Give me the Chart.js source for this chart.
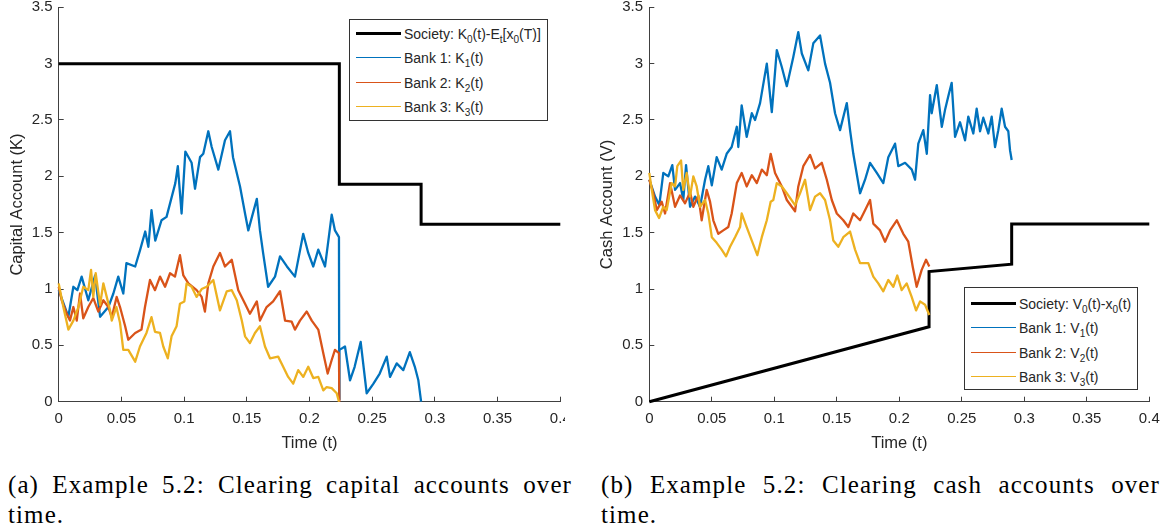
<!DOCTYPE html>
<html>
<head>
<meta charset="utf-8">
<script src="https://cdn.jsdelivr.net/npm/chart.js@4.4.1/dist/chart.umd.min.js"></script>
<style>
  body { margin: 0; background: #fff; width: 1167px; height: 529px; position: relative; overflow: hidden; }
  canvas { position: absolute; top: 0; }
  .legend { position: absolute; background: #fff; border: 1px solid #333; box-sizing: border-box;
            font-family: "Liberation Sans", Arial, sans-serif; font-size: 14px; color: #262626; }
  .legend .row { position: absolute; left: 0; height: 24px; line-height: 24px; white-space: nowrap; }
  .legend .swatch { position: absolute; left: 6px; width: 45px; top: 12px; }
  .legend .txt { position: absolute; left: 54px; top: 0; }
  .legend sub { font-size: 10px; vertical-align: -4px; line-height: 0; }
  .cap { position: absolute; top: 470px; font-family: "Liberation Serif", "Times New Roman", serif;
         font-size: 25px; line-height: 30px; color: #000; letter-spacing: 1.1px; }
  .cap .l1 { display: block; text-align: justify; text-align-last: justify; }
</style>
</head>
<body>
<canvas id="capChart" width="565" height="460" style="left:0px"></canvas>
<canvas id="cashChart" width="577" height="460" style="left:590px"></canvas>

<div class="legend" id="capLegend" style="left:349px; top:19px; width:199px; height:102px;"></div>
<div class="legend" id="cashLegend" style="left:964px; top:287px; width:174px; height:103px;"></div>

<div class="cap" style="left:8px; width:564px;"><span class="l1">(a) Example 5.2: Clearing capital accounts over</span>time.</div>
<div class="cap" style="left:601px; width:559px;"><span class="l1">(b) Example 5.2: Clearing cash accounts over</span>time.</div>

<script>
// tick labels
var xTicks = [0, 0.05, 0.1, 0.15, 0.2, 0.25, 0.3, 0.35, 0.4];
var yTicks = [0, 0.5, 1, 1.5, 2, 2.5, 3, 3.5];

var seriesColors = ['#000000', '#0072BD', '#D95319', '#EDB120'];
var capLabels = ['Society: K<sub>0</sub>(t)-E<sub>t</sub>[x<sub>0</sub>(T)]', 'Bank 1: K<sub>1</sub>(t)', 'Bank 2: K<sub>2</sub>(t)', 'Bank 3: K<sub>3</sub>(t)'];
var cashLabels = ['Society: V<sub>0</sub>(t)-x<sub>0</sub>(t)', 'Bank 1: V<sub>1</sub>(t)', 'Bank 2: V<sub>2</sub>(t)', 'Bank 3: V<sub>3</sub>(t)'];

// ---- (a) capital accounts ----
var k0T = [0, 0.2238, 0.2238, 0.289, 0.289, 0.4];
var k0V = [3, 3, 1.93, 1.93, 1.575, 1.575];

var k1T = [0, 0.0077, 0.0117, 0.0149, 0.0183, 0.0236, 0.029, 0.033, 0.0396, 0.0436, 0.0475, 0.0515, 0.054, 0.061, 0.065, 0.069, 0.0715, 0.074, 0.077, 0.082, 0.086, 0.093, 0.095, 0.098, 0.101, 0.106, 0.1087, 0.1127, 0.1153, 0.1193, 0.122, 0.1273, 0.1326, 0.1366, 0.139, 0.1446, 0.1486, 0.1512, 0.158, 0.1605, 0.163, 0.167, 0.1725, 0.1765, 0.182, 0.1884, 0.195, 0.199, 0.203, 0.207, 0.2124, 0.2177, 0.2203, 0.2235, 0.2237, 0.2239, 0.2283, 0.2323, 0.236, 0.2408, 0.2456, 0.251, 0.256, 0.2616, 0.2642, 0.2695, 0.2748, 0.28, 0.284, 0.2868, 0.289];
var k1V = [0.99, 0.754, 1.02, 0.99, 1.11, 0.9, 1.12, 0.754, 0.84, 0.96, 1.11, 0.96, 1.23, 1.2, 1.35, 1.51, 1.375, 1.7, 1.43, 1.61, 1.64, 1.94, 2.09, 1.67, 2.22, 2.12, 1.89, 2.17, 2.2, 2.4, 2.26, 2.06, 2.32, 2.4, 2.17, 1.91, 1.67, 1.52, 1.8, 1.52, 1.32, 1.02, 1.11, 1.29, 1.2, 1.11, 1.49, 1.32, 1.2, 1.35, 1.2, 1.66, 1.52, 1.46, 0.02, 0.46, 0.49, 0.19, 0.31, 0.53, 0.075, 0.16, 0.25, 0.4, 0.22, 0.34, 0.28, 0.44, 0.31, 0.19, 0];

var k2T = [0, 0.0024, 0.0064, 0.009, 0.0117, 0.0144, 0.017, 0.0196, 0.0236, 0.0276, 0.0316, 0.0356, 0.0396, 0.0423, 0.0462, 0.0489, 0.053, 0.0555, 0.061, 0.066, 0.0688, 0.0728, 0.0768, 0.0808, 0.0848, 0.0888, 0.0927, 0.0967, 0.0994, 0.1034, 0.11, 0.114, 0.1166, 0.1193, 0.1233, 0.1286, 0.1326, 0.138, 0.1432, 0.1486, 0.1525, 0.158, 0.1605, 0.1658, 0.171, 0.1765, 0.1805, 0.1858, 0.1884, 0.1924, 0.1978, 0.2018, 0.207, 0.211, 0.2145, 0.2177, 0.2203, 0.2235, 0.2238];
var k2V = [1.02, 0.9, 0.78, 0.72, 0.84, 0.72, 0.96, 0.74, 0.84, 0.92, 0.8, 0.9, 0.84, 0.75, 0.93, 0.84, 0.67, 0.55, 0.61, 0.64, 0.84, 1.08, 0.99, 1.11, 1.02, 1.14, 1.11, 1.3, 1.12, 1.05, 0.99, 0.93, 0.8, 1.05, 1.2, 1.32, 1.2, 1.26, 0.99, 0.87, 0.78, 0.89, 0.72, 0.84, 0.89, 0.98, 0.72, 0.71, 0.64, 0.72, 0.8, 0.72, 0.64, 0.43, 0.25, 0.37, 0.46, 0.43, 0];

var k3T = [0, 0.0037, 0.0077, 0.0117, 0.0157, 0.0196, 0.0236, 0.0258, 0.0276, 0.0295, 0.033, 0.0356, 0.0383, 0.041, 0.0423, 0.046, 0.0489, 0.0515, 0.0555, 0.061, 0.0648, 0.07, 0.074, 0.0768, 0.0808, 0.0834, 0.087, 0.09, 0.094, 0.0967, 0.1002, 0.102, 0.106, 0.11, 0.114, 0.118, 0.1233, 0.1286, 0.134, 0.138, 0.142, 0.146, 0.1486, 0.1525, 0.1565, 0.1605, 0.1645, 0.1685, 0.175, 0.179, 0.183, 0.187, 0.191, 0.195, 0.199, 0.203, 0.207, 0.211, 0.2137, 0.2177, 0.2217, 0.2235];
var k3V = [1.05, 0.84, 0.64, 0.72, 0.84, 1.02, 0.99, 1.17, 0.93, 1.14, 0.86, 1.05, 0.93, 0.81, 0.72, 0.84, 0.7, 0.46, 0.46, 0.355, 0.49, 0.61, 0.75, 0.62, 0.61, 0.49, 0.385, 0.58, 0.67, 0.87, 0.89, 1.05, 1.02, 0.93, 1.0, 1.02, 1.08, 0.81, 0.98, 0.99, 0.9, 0.72, 0.58, 0.52, 0.61, 0.67, 0.49, 0.385, 0.4, 0.31, 0.22, 0.16, 0.28, 0.22, 0.31, 0.21, 0.22, 0.1, 0.13, 0.12, 0.075, 0];

// ---- (b) cash accounts ----
var v0T = [0, 0.2238, 0.2238, 0.2899, 0.2899, 0.4];
var v0V = [0, 0.665, 1.155, 1.22, 1.577, 1.577];

var v1T = [0, 0.0046, 0.008, 0.0112, 0.0152, 0.0184, 0.0206, 0.0246, 0.0272, 0.0294, 0.0326, 0.0366, 0.0406, 0.0446, 0.0472, 0.05, 0.0539, 0.0579, 0.0619, 0.0659, 0.07, 0.0712, 0.0739, 0.0779, 0.082, 0.0846, 0.0886, 0.094, 0.098, 0.102, 0.106, 0.11, 0.1152, 0.1192, 0.122, 0.1272, 0.1312, 0.1366, 0.1406, 0.1446, 0.1486, 0.1526, 0.158, 0.1606, 0.1632, 0.1686, 0.1726, 0.1766, 0.182, 0.1872, 0.1912, 0.1966, 0.1992, 0.2046, 0.21, 0.2126, 0.2152, 0.2192, 0.222, 0.2246, 0.2259, 0.23, 0.234, 0.2366, 0.2392, 0.2419, 0.2446, 0.2486, 0.2526, 0.2552, 0.2592, 0.2619, 0.2646, 0.2672, 0.2712, 0.2739, 0.2766, 0.2792, 0.2819, 0.2846, 0.2872, 0.2886, 0.2899];
var v1V = [1.97, 1.82, 1.745, 2.03, 2.0, 2.1, 1.88, 1.94, 1.79, 2.1, 1.73, 1.82, 1.73, 1.97, 2.09, 1.92, 2.17, 2.06, 2.2, 2.26, 2.44, 2.26, 2.63, 2.35, 2.56, 2.5, 2.65, 3.0, 2.57, 3.12, 2.97, 2.8, 3.06, 3.28, 3.09, 2.94, 3.18, 3.25, 3.0, 2.83, 2.56, 2.41, 2.65, 2.41, 2.2, 1.85, 1.97, 2.12, 2.03, 1.94, 2.17, 2.29, 2.09, 2.12, 2.06, 1.97, 2.29, 2.41, 2.2, 2.72, 2.56, 2.81, 2.44, 2.59, 2.71, 2.83, 2.35, 2.48, 2.32, 2.53, 2.38, 2.6, 2.4, 2.52, 2.38, 2.53, 2.26, 2.41, 2.6, 2.44, 2.4, 2.23, 2.145];

var v2T = [0, 0.0032, 0.006, 0.0099, 0.0126, 0.0166, 0.0206, 0.0246, 0.0286, 0.0326, 0.0352, 0.0392, 0.0419, 0.0459, 0.0486, 0.0512, 0.0552, 0.0592, 0.0632, 0.0659, 0.07, 0.0739, 0.0779, 0.082, 0.086, 0.09, 0.094, 0.0971, 0.1006, 0.106, 0.11, 0.1166, 0.1192, 0.1232, 0.1286, 0.1326, 0.138, 0.142, 0.146, 0.15, 0.1552, 0.1592, 0.1632, 0.1686, 0.1726, 0.1766, 0.1792, 0.1846, 0.1886, 0.1926, 0.198, 0.2032, 0.2072, 0.2107, 0.2139, 0.2179, 0.2214, 0.224];
var v2V = [1.97, 1.85, 1.7, 1.775, 1.67, 1.94, 1.73, 1.83, 1.76, 1.86, 1.73, 1.83, 1.61, 1.88, 1.775, 1.61, 1.49, 1.52, 1.55, 1.67, 1.94, 2.03, 1.91, 2.01, 1.94, 2.06, 2.01, 2.2, 2.03, 1.91, 1.79, 1.69, 1.91, 2.09, 2.19, 2.07, 2.12, 1.97, 1.79, 1.67, 1.61, 1.55, 1.67, 1.61, 1.7, 1.79, 1.58, 1.52, 1.42, 1.52, 1.61, 1.49, 1.42, 1.2, 1.02, 1.17, 1.26, 1.2];

var v3T = [0, 0.002, 0.0046, 0.0078, 0.0112, 0.0139, 0.0179, 0.0206, 0.0224, 0.0254, 0.0272, 0.0299, 0.0326, 0.0352, 0.0379, 0.0406, 0.0446, 0.0472, 0.05, 0.0539, 0.0579, 0.0614, 0.0646, 0.0686, 0.0726, 0.0739, 0.0779, 0.082, 0.0864, 0.09, 0.094, 0.0971, 0.0992, 0.102, 0.106, 0.11, 0.1166, 0.1206, 0.1246, 0.1286, 0.1326, 0.1366, 0.1406, 0.1446, 0.1472, 0.1512, 0.1552, 0.1606, 0.1646, 0.1686, 0.1752, 0.1792, 0.1832, 0.1872, 0.1912, 0.1952, 0.1984, 0.2019, 0.2059, 0.2099, 0.2134, 0.2166, 0.2206, 0.224];
var v3V = [2.03, 1.88, 1.7, 1.63, 1.73, 1.7, 1.94, 1.91, 2.09, 2.14, 1.88, 2.03, 1.82, 2.0, 1.91, 1.73, 1.79, 1.67, 1.46, 1.41, 1.35, 1.29, 1.375, 1.46, 1.55, 1.67, 1.55, 1.43, 1.3, 1.46, 1.61, 1.775, 1.79, 1.94, 1.91, 1.85, 1.745, 1.85, 1.97, 1.7, 1.82, 1.85, 1.79, 1.61, 1.43, 1.375, 1.46, 1.51, 1.35, 1.23, 1.23, 1.11, 1.05, 0.98, 1.08, 1.02, 1.12, 0.99, 1.05, 0.93, 0.81, 0.89, 0.86, 0.77];

var tickFont = { family: 'Liberation Sans', size: 15 };
var titleFont = { family: 'Liberation Sans', size: 16.5 };
var axisColor = '#262626';

function pts(ts, vs) {
    return ts.map(function (t, i) { return { x: t, y: vs[i] }; });
}

function series(ts, vs, idx) {
    return {
        data: pts(ts, vs),
        borderColor: seriesColors[idx],
        borderWidth: idx === 0 ? 3 : 2.3,
        borderJoinStyle: idx === 0 ? 'miter' : 'round',
        pointRadius: 0,
        tension: 0,
        clip: 6,
        order: 4 - idx
    };
}

function makeChart(id, datasets, yTitle, yAxisWidth, padRight) {
    var ctx = document.getElementById(id).getContext('2d');
    return new Chart(ctx, {
        type: 'line',
        data: { datasets: datasets },
        options: {
            responsive: false,
            animation: false,
            events: [],
            layout: { padding: { left: 0, top: 7.3, right: padRight, bottom: 0 } },
            plugins: { legend: { display: false }, tooltip: { enabled: false } },
            scales: {
                x: {
                    type: 'linear', min: 0, max: 0.4,
                    afterBuildTicks: function (s) { s.ticks = xTicks.map(function (v) { return { value: v }; }); },
                    afterFit: function (s) { s.height = 460 - 401.7; s.paddingLeft = 0; s.paddingRight = 0; },
                    ticks: { font: tickFont, color: axisColor, padding: 12.8, maxRotation: 0, autoSkip: false,
                             callback: function (v) { return String(v); } },
                    grid: { drawOnChartArea: false, drawTicks: true, tickLength: -5, color: '#404040', lineWidth: 1 },
                    border: { display: true, color: '#404040', width: 1 },
                    title: { display: true, text: 'Time (t)', font: titleFont, color: axisColor, padding: { top: 0, bottom: 7 } }
                },
                y: {
                    type: 'linear', min: 0, max: 3.5,
                    afterBuildTicks: function (s) { s.ticks = yTicks.map(function (v) { return { value: v }; }); },
                    afterFit: function (s) { s.width = yAxisWidth; s.paddingTop = 0; s.paddingBottom = 0; },
                    ticks: { font: tickFont, color: axisColor, padding: 11.2, autoSkip: false,
                             callback: function (v) { return String(v); } },
                    grid: { drawOnChartArea: false, drawTicks: true, tickLength: -5, color: '#404040', lineWidth: 1 },
                    border: { display: true, color: '#404040', width: 1 },
                    title: { display: true, text: yTitle, font: titleFont, color: axisColor, padding: { top: 7.6, bottom: 0 } }
                }
            }
        }
    });
}

function buildLegend(id, labels, firstRowTop) {
    var box = document.getElementById(id);
    labels.forEach(function (lab, i) {
        var row = document.createElement('div');
        row.className = 'row';
        row.style.top = (firstRowTop + i * 24.5) + 'px';
        var sw = document.createElement('div');
        sw.className = 'swatch';
        var w = i === 0 ? 3 : 1.5;
        sw.style.borderTop = w + 'px solid ' + seriesColors[i];
        sw.style.marginTop = (-w / 2) + 'px';
        var tx = document.createElement('span');
        tx.className = 'txt';
        tx.innerHTML = lab;
        row.appendChild(sw);
        row.appendChild(tx);
        box.appendChild(row);
    });
}

makeChart('capChart', [
    series(k0T, k0V, 0), series(k1T, k1V, 1), series(k2T, k2V, 2), series(k3T, k3V, 3)
], 'Capital Account (K)', 58.7, 565 - 560.3);

makeChart('cashChart', [
    series(v0T, v0V, 0), series(v1T, v1V, 1), series(v2T, v2V, 2), series(v3T, v3V, 3)
], 'Cash Account (V)', 59.3, 577 - 559.3);

buildLegend('capLegend', capLabels, 1.5);
buildLegend('cashLegend', cashLabels, 3.5);
</script>
</body>
</html>
